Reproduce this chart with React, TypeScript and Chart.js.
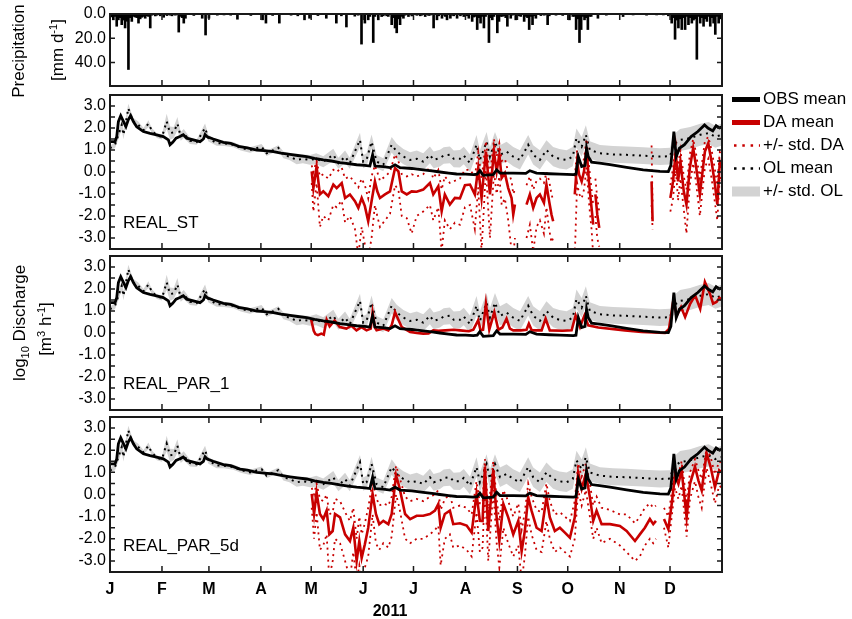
import React, { useEffect, useRef } from 'react';
import { Chart, registerables } from 'chart.js';

Chart.register(...registerables);

const FONT = '"Liberation Sans", Arial, Helvetica, sans-serif';
const RED = '#c80000';
const BAND = '#d3d3d3';

// ---- axes ----
const monthStarts = [0, 31, 59, 90, 120, 151, 181, 212, 243, 273, 304, 334];
const monthLabels = ['J', 'F', 'M', 'A', 'M', 'J', 'J', 'A', 'S', 'O', 'N', 'D'];
const dischargeTicks = [-3, -2.5, -2, -1.5, -1, -0.5, 0, 0.5, 1, 1.5, 2, 2.5, 3];
const rainTicks = [0, 20, 40];

// ---- daily precipitation: [day of year, mm/d] ----
const rainRows = [
  [1, 2.4], [2, 4.8], [3, 2], [4, 10.1], [5, 4.8], [6, 3], [7, 8.8], [8, 5], [9, 11.5], [10, 6], [11, 45.7], [12, 3], [13, 6.1], [14, 2], [15, 2.5],
  [16, 3], [17, 7.5], [18, 4], [19, 2.7], [20, 2], [21, 3.5], [22, 1.5], [23, 2], [24, 11.5], [25, 1], [27, 1.6], [28, 1], [30, 1.5], [32, 2.7], [34, 1.3],
  [36, 1], [37, 1.5], [39, 1], [41, 14.9], [42, 2], [43, 3], [44, 7.5], [45, 3.5], [50, 1.2], [55, 3.5], [57, 17.3], [59, 3.5], [64, 1], [68, 0.8], [72, 1],
  [76, 4.3], [84, 1.2], [91, 4.8], [93, 7.5], [97, 1.2], [101, 7.5], [108, 1], [112, 1.5], [116, 4.8], [119, 3.5], [124, 1.3], [129, 3.5], [135, 7.5], [138, 1.5], [141, 10.7],
  [146, 1.8], [148, 1], [150, 24.8], [152, 7.5], [154, 4.8], [155, 2], [157, 23.5], [158, 2], [160, 4.8], [162, 2.1], [163, 1.5], [165, 1.5], [166, 2], [168, 8.8], [169, 3],
  [170, 11.5], [171, 15.5], [172, 4], [173, 8.8], [174, 2], [175, 3.5], [176, 1], [178, 2.1], [180, 1.6], [183, 1.1], [185, 1.5], [186, 1], [188, 2.1], [190, 1.2], [191, 1],
  [193, 11.5], [195, 4.8], [196, 1.5], [198, 3.5], [199, 1], [200, 2], [201, 4.8], [203, 3.5], [204, 1], [205, 1.5], [207, 3.5], [209, 1.5], [211, 2.1], [212, 1], [213, 1.5],
  [214, 3.5], [216, 6.1], [217, 2.5], [218, 2], [219, 12.8], [220, 3], [221, 7.5], [222, 2], [223, 11.5], [224, 2], [226, 23.5], [227, 3], [228, 4.8], [229, 2], [231, 15.5],
  [232, 6.1], [233, 2], [234, 2], [235, 1.5], [236, 3], [237, 10.1], [239, 3.5], [240, 1], [242, 4.8], [244, 1.5], [245, 2], [247, 6.1], [248, 2], [249, 3], [250, 12.8],
  [251, 2], [252, 8.8], [253, 1.5], [254, 3.5], [257, 1.3], [259, 1], [261, 8.8], [262, 1.5], [266, 1], [270, 1.2], [274, 4.8], [276, 2], [277, 2], [278, 12.8], [279, 4],
  [280, 23.5], [281, 12.8], [282, 2], [283, 4.8], [284, 3], [285, 12.8], [286, 2], [287, 2], [291, 3.5], [296, 1], [306, 2.1], [312, 0.8], [320, 1], [326, 0.8], [330, 0.8],
  [333, 1.5], [335, 7.5], [336, 3], [337, 20.8], [338, 5], [339, 11.5], [340, 4], [341, 12.8], [342, 3], [343, 12.8], [344, 2], [345, 8.8], [346, 3], [347, 7.5], [348, 5],
  [349, 4], [350, 37.3], [351, 2], [352, 7.5], [353, 3], [354, 10.1], [355, 4], [356, 6.1], [357, 2], [358, 10.1], [359, 3], [360, 7.5], [361, 16.8], [362, 2], [363, 7.5],
  [364, 4],
];

// ---- observed discharge, log10 m3/h ----
const obsDays = [0, 3, 4, 5, 6.4, 8, 9.5, 10.9, 12.3, 13.9, 15.9, 19.9, 23.9, 27.8, 31.8, 34.8, 35.8, 37.4, 39.4, 41.7, 43.7, 45.7, 49.7, 53.7, 55.7, 56.7, 58, 61.6, 67.6, 72, 77.5, 82, 87.5, 92, 97.4, 102, 107.4, 112, 117.3, 122, 127.2, 132, 137.2, 142, 147.1, 152, 155, 156.6, 158, 163, 167, 170, 173, 180, 186.8, 192, 196.8, 202, 206.7, 212, 216.7, 219, 220.6, 222.6, 228.6, 230.6, 232.6, 240.5, 248, 250.4, 254.4, 262, 268.3, 276.3, 277.9, 279.3, 281.3, 283.3, 284.2, 285.2, 287.2, 292, 298.2, 308.1, 318, 328, 333, 334.5, 336.3, 337.7, 339.6, 342.6, 346.6, 350.6, 354.6, 356.6, 359.5, 361.5, 363.5, 365];
const obsLog = [1.38, 1.38, 1.6, 2.29, 2.56, 2.3, 2.06, 2.37, 2.56, 2.3, 2.06, 1.84, 1.76, 1.69, 1.61, 1.46, 1.24, 1.35, 1.54, 1.61, 1.69, 1.54, 1.46, 1.38, 1.5, 1.7, 1.6, 1.5, 1.35, 1.3, 1.15, 1.1, 1.0, 0.97, 0.93, 0.86, 0.8, 0.75, 0.7, 0.62, 0.55, 0.5, 0.43, 0.38, 0.33, 0.3, 0.27, 0.78, 0.27, 0.24, 0.2, 0.33, 0.2, 0.16, 0.1, 0.05, 0, -0.05, -0.09, -0.1, -0.12, -0.1, 0.06, -0.15, -0.12, 0.1, -0.05, -0.05, -0.06, 0.06, -0.05, -0.08, -0.1, -0.12, -0.1, 0.7, 0.25, 0.3, 1.08, 0.7, 0.45, 0.4, 0.33, 0.21, 0.1, 0.03, 0.02, 0.3, 1.84, 0.7, 1.08, 1.24, 1.61, 1.84, 2.14, 2.0, 1.87, 2.1, 2.0, 2.05];

// ---- open-loop ensemble: [day, mean, std] ----
const olRows = [
  [0, 1.08, 0.1], [3, 1.24, 0.15], [5, 1.69, 0.2], [7, 2.14, 0.2], [8, 1.69, 0.2], [9.9, 2.45, 0.2], [10.9, 2.9, 0.2], [12.3, 2.6, 0.2], [13.9, 2.3, 0.15], [16.9, 2.14, 0.15],
  [20, 1.9, 0.1], [22.9, 2.2, 0.15], [24.9, 1.9, 0.1], [28, 1.65, 0.1], [31, 1.6, 0.12], [33.8, 2.3, 0.35], [35.8, 1.77, 0.3], [38, 1.8, 0.25], [40.2, 2.2, 0.3], [42.2, 1.62, 0.2],
  [44, 1.75, 0.2], [47.7, 1.42, 0.15], [51.7, 1.36, 0.12], [56.7, 2.0, 0.2], [58.7, 1.54, 0.15], [63.6, 1.31, 0.12], [68, 1.3, 0.12], [73.5, 1.24, 0.12], [78, 1.1, 0.12], [83.5, 1.0, 0.12],
  [90.4, 1.15, 0.12], [93.4, 0.85, 0.12], [100.4, 1.1, 0.12], [103.4, 0.78, 0.15], [107, 0.7, 0.15], [111.3, 0.55, 0.2], [115, 0.6, 0.2], [119.3, 0.55, 0.22], [123, 0.6, 0.25], [127.2, 0.47, 0.25],
  [133.2, 0.78, 0.28], [136.2, 0.4, 0.25], [140.2, 0.7, 0.28], [143, 0.4, 0.25], [149.1, 1.46, 0.32], [151, 0.47, 0.3], [153, 0.55, 0.3], [156, 1.38, 0.32], [159, 0.47, 0.3], [163, 0.33, 0.3],
  [168, 1.24, 0.35], [171, 0.93, 0.35], [175, 0.7, 0.35], [179, 0.55, 0.35], [183, 0.6, 0.38], [186.8, 0.47, 0.38], [190.8, 0.78, 0.38], [193, 0.55, 0.38], [196.8, 0.63, 0.38], [199, 0.75, 0.38],
  [202.7, 0.78, 0.38], [205, 0.6, 0.38], [208.7, 0.6, 0.4], [211, 0.75, 0.4], [214.7, 0.4, 0.4], [218.6, 1.24, 0.44], [220.6, 0.55, 0.44], [224.6, 1.38, 0.44], [226.6, 0.7, 0.44], [229.6, 1.38, 0.44],
  [232.6, 0.78, 0.44], [236.5, 0.93, 0.44], [240.5, 0.7, 0.44], [244.5, 0.55, 0.44], [249.4, 1.24, 0.44], [252.4, 0.78, 0.44], [256.4, 0.55, 0.44], [260.3, 1.0, 0.44], [264.3, 0.7, 0.44], [268, 0.6, 0.44],
  [272.3, 0.55, 0.44], [276, 0.7, 0.44], [278.2, 1.54, 0.44], [281.3, 1.15, 0.44], [283.8, 1.69, 0.44], [286.2, 1.0, 0.4], [292.2, 0.85, 0.38], [300, 0.8, 0.38], [308.1, 0.78, 0.38], [318, 0.74, 0.38],
  [328, 0.7, 0.38], [334, 0.72, 0.38], [336, 1.24, 0.45], [340, 1.46, 0.5], [346, 1.54, 0.5], [352, 1.69, 0.5], [357, 1.77, 0.5], [361, 1.6, 0.5], [365, 1.7, 0.5],
];

// ---- data assimilation runs: [day, mean, mean+std, mean-std]; null = no estimate ----
const stRows = [
  [120.3, 0.03, 0.3, -0.5], [121.3, -0.73, 0.0, -1.8], [123.2, 0.25, 0.5, -0.5], [125.2, -1.02, -0.2, -2.5], [127.2, -0.88, -0.1, -2.0],
  [130.2, -1.1, -0.3, -2.2], [133.2, -0.57, 0.1, -1.5], [135.2, -0.73, 0.0, -1.6], [138.2, -0.5, 0.2, -1.3], [140.2, -1.18, -0.3, -2.3],
  [143.1, -1.02, -0.2, -2.0], [146.1, -1.33, -0.5, -2.6], [148.1, -1.63, -0.7, -3.8], [150.1, -1.18, -0.3, -2.5], [152, -1.55, -0.6, -3.3],
  [154, -2.24, -1.2, -3.9], [156, -1.33, -0.2, -3.0], [158, -0.43, 0.3, -1.5], [159.4, -0.88, 0.0, -2.0], [161, -1.18, -0.4, -2.5],
  [164, -1.02, -0.2, -2.2], [167, -0.88, 0.0, -1.9], [170, 0.18, 0.8, -0.6], [172, 0.03, 0.5, -0.8], [174, -0.88, -0.1, -2.0],
  [177, -1.02, -0.2, -2.1], [179.9, -0.88, -0.1, -2.8], [182.9, -0.9, -0.2, -2.0], [186.8, -0.8, -0.1, -1.8], [190.8, -0.5, 0.2, -1.5],
  [192.8, -1.02, -0.3, -2.2], [195.8, -0.65, 0.1, -1.6], [197.8, -1.78, -0.8, -3.6], [199.7, -1.02, -0.2, -2.2], [202.7, -1.48, -0.5, -2.6],
  [205.7, -1.18, -0.4, -2.3], [208.7, -1.2, -0.3, -2.4], [211.7, -0.6, 0.1, -1.6], [214.7, -0.57, 0.1, -1.5], [217.6, -1.02, -0.2, -2.6],
  [219.6, 0.18, 0.9, -0.7], [221.6, -1.18, -0.3, -3.6], [224.2, 0.93, 1.4, 0.1], [226.6, -1.02, -0.2, -3.0], [229, 0.93, 1.5, 0.0],
  [230.6, 0.03, 0.7, -1.0], [232.2, 0.78, 1.3, -0.2], [233.6, -0.27, 0.5, -1.5], [235.5, -0.05, 0.6, -1.2], [237.5, -0.73, 0.0, -2.2],
  [239.5, -1.18, -0.4, -3.6], [240.5, -1.93, -1.0, -3.8], [241.5, -1.48, -0.8, -3.0], [245, null, null, null],
  [248.4, -1.48, -0.6, -3.0], [250.4, -1.02, -0.2, -2.4], [252.4, -1.63, -0.8, -3.6], [254.4, -1.18, -0.4, -2.5], [256.4, -1.02, -0.3, -2.2],
  [258.8, -1.4, -0.5, -2.8], [260.3, -0.57, 0.0, -1.6], [261.9, -1.33, -0.4, -2.6], [263.3, -1.93, -1.0, -3.2], [264.3, -2.24, -1.3, -3.0],
  [270, null, null, null],
  [277.2, -1.02, -0.2, -3.8], [278.6, 0.47, 1.0, -0.5], [279.8, -0.12, 0.5, -1.0], [281.3, -0.43, 0.3, -1.2], [282.7, 0.03, 0.6, -0.8],
  [284.2, 1.08, 1.5, 0.2], [285.8, -0.57, 0.2, -1.5], [287.2, -1.63, -0.8, -2.6], [288.2, -2.39, -1.5, -3.8], [288.8, null, null, null],
  [289.5, -1.02, -0.3, -2.0], [290.6, -1.93, -1.2, -3.0], [291.8, -2.54, -1.8, -3.4], [300, null, null, null],
  [323, -0.43, 1.2, -1.5], [323.6, -2.24, -1.5, -2.6], [330, null, null, null],
  [334.2, -1.18, -0.6, -1.8], [335.8, -0.43, 0.2, -1.2], [337.4, 0.93, 1.3, 0.2], [338.8, -0.43, 0.3, -1.3], [340.2, 0.47, 1.0, -0.3],
  [342.2, -0.88, -0.2, -1.7], [343.8, -1.48, -0.8, -2.8], [345.8, 0.18, 0.8, -0.6], [347.8, 1.08, 1.5, 0.4], [349.4, 0.33, 0.9, -0.4],
  [351.8, -1.02, -0.3, -2.0], [354.8, 0.93, 1.4, 0.2], [356.8, 1.31, 1.6, 0.6], [358.8, 0.47, 1.0, -0.3], [360.8, -0.57, 0.1, -1.4],
  [362.2, -1.48, -0.6, -2.2], [363.7, 0.47, 0.9, -0.2], [365, 0.2, 0.7, -0.5],
];

const par1Rows = [
  [120, 0.6], [121.5, 0.1], [122.5, -0.05], [124, -0.1], [126, -0.03], [127.5, -0.08], [129.2, 0.6], [131, 0.3], [134, 0.57], [137, 0.27],
  [141, 0.2], [144, 0.33], [147, 0.12], [150, 0.27], [153, 0.12], [155.5, 0.2], [156.6, 0.93], [158, 0.25], [159, 0.12], [163, 0.2],
  [166, 0.12], [168, 0.35], [170, 0.95], [172, 0.6], [174, 0.27], [179, 0.05], [183, 0.0], [186.8, -0.03], [190, -0.02], [192.8, 0.12],
  [196, 0.1], [200, 0.12], [205, 0.15], [208.7, 0.12], [214, 0.08], [216.7, 0.15], [219.6, 0.58], [221, 0.12], [222.5, 0.15], [224.2, 1.33],
  [226.2, 0.15], [229.2, 0.95], [231.6, 0.15], [234, 0.25], [236.5, 0.65], [238.5, 0.2], [240.5, 0.12], [245, 0.12], [248.4, 0.15], [249.8, 0.42],
  [251.5, 0.12], [257.4, 0.12], [259.8, 0.65], [262.3, 0.12], [270, 0.1], [275.3, 0.12], [277.7, 0.8], [280.3, 0.27], [283, 0.8], [285.2, 0.35],
  [291.2, 0.25], [307.1, 0.12], [317, 0.05], [331, 0.0], [333.4, 0.19], [336, 1.49], [338, 0.8], [340.6, 1.18], [343, 0.73], [346, 1.33],
  [349, 1.71], [352, 1.1], [354.8, 2.32], [357.8, 1.79], [359.7, 1.33], [361.7, 1.41], [363.5, 1.6], [365, 1.5],
];

const par5Rows = [
  [120.3, 0.03, 0.3, -0.6], [121.7, -0.88, 0.0, -2.0], [123.2, 0.1, 0.5, -0.8], [125.2, -0.88, -0.2, -2.5], [127.2, -1.11, -0.3, -2.3],
  [129.2, -0.73, 0.0, -1.8], [130.8, -1.8, -0.9, -3.8], [132.8, -1.65, -0.8, -3.0], [134.2, -0.88, -0.2, -2.0], [137.2, -1.03, -0.3, -2.2],
  [140.2, -1.8, -0.8, -3.0], [143.1, -2.1, -1.2, -3.8], [145.1, -1.5, -0.6, -2.6], [147.1, -3.0, -2.0, -3.9], [148.7, -2.1, -1.0, -3.2],
  [150.1, -2.86, -1.8, -3.9], [152, -2.25, -1.3, -3.3], [154, -1.5, -0.6, -2.8], [156.6, 0.03, 0.6, -0.9], [158.6, -0.88, -0.1, -2.2],
  [160.6, -1.34, -0.5, -2.5], [163, -1.19, -0.4, -2.2], [166, -1.34, -0.5, -2.4], [168, -0.88, -0.1, -1.9], [170.6, 0.87, 1.3, 0.0],
  [172.6, 0.33, 0.8, -0.6], [176, -0.88, -0.1, -2.0], [179, -1.11, -0.3, -2.2], [182.9, -0.96, -0.2, -2.0], [186.8, -0.96, -0.3, -2.0],
  [190.8, -0.88, -0.1, -1.8], [193.8, -0.73, 0.0, -1.6], [195.8, -0.43, 0.2, -1.4], [197.2, -1.5, -0.7, -3.2], [199.7, -0.88, -0.2, -2.0],
  [202.7, -0.73, 0.0, -1.8], [204.7, -1.34, -0.6, -2.4], [208.7, -1.3, -0.5, -2.3], [212.7, -1.4, -0.6, -2.5], [215.7, -1.72, -0.9, -2.8],
  [218.6, 0.03, 0.6, -0.8], [220.6, -1.19, -0.4, -2.6], [222.2, -1.2, -0.4, -2.4], [223.6, 1.25, 1.6, 0.3], [225.6, -1.65, -0.8, -3.0],
  [228.6, 1.1, 1.5, 0.2], [230.6, -1.03, -0.2, -2.2], [232.2, -2.1, -1.2, -3.3], [234.6, -0.43, 0.2, -1.5], [237.5, -1.03, -0.3, -2.2],
  [240.5, -1.8, -1.0, -2.8], [243.5, -1.19, -0.4, -2.3], [245.5, -2.56, -1.6, -3.9], [247.4, -1.65, -0.8, -2.8], [249.4, -0.12, 0.5, -1.0],
  [251.4, -0.73, -0.1, -1.8], [254.4, -1.5, -0.7, -2.5], [257.4, -1.65, -0.8, -2.6], [260.3, -0.12, 0.5, -1.2], [262.3, -1.03, -0.3, -2.0],
  [265.3, -1.65, -0.9, -2.6], [268.3, -1.5, -0.8, -2.4], [271.3, -1.72, -1.0, -2.6], [274.3, -1.95, -1.2, -2.8], [277.2, -1.03, -0.3, -2.0],
  [279.2, 1.0, 1.4, 0.2], [281.3, 0.26, 0.8, -0.5], [283.8, 0.95, 1.4, 0.2], [286.2, -0.12, 0.5, -1.0], [288.2, -1.19, -0.5, -2.0],
  [290.2, -0.73, -0.1, -1.5], [293.2, -1.34, -0.6, -2.2], [298.2, -1.34, -0.7, -2.0], [304.1, -1.42, -0.9, -2.3], [308.1, -1.65, -0.9, -2.6],
  [313.1, -2.1, -1.3, -3.0], [316, -1.8, -1.0, -2.8], [319, -1.5, -0.6, -2.3], [322, -1.11, -0.4, -2.0], [324, -1.34, -0.6, -2.2],
  [325.6, -1.19, -0.5, -2.0], [328, null, null, null],
  [330.4, -1.11, -0.6, -1.5], [333, -1.57, -1.0, -2.4], [335, -0.43, 0.1, -1.0], [337, 0.87, 1.2, 0.3], [339, 0.48, 0.9, -0.2],
  [340.9, 1.1, 1.5, 0.4], [343.9, -1.03, -0.3, -1.9], [345.9, 0.48, 1.0, -0.2], [348.9, 1.25, 1.6, 0.6], [350.9, 0.64, 1.1, -0.1],
  [352.9, 0.18, 0.7, -0.6], [355.8, 1.86, 2.1, 1.2], [358.2, 1.25, 1.7, 0.5], [360.8, 0.33, 0.9, -0.4], [363.3, 1.1, 1.5, 0.4],
  [365, 1.0, 1.4, 0.3],
];

const legendOrder = ['OBS mean', 'DA mean', '+/- std. DA', 'OL mean', '+/- std. OL'];

// ---- layout of the plot frames (px) ----
const PLOT_LEFT = 110;
const PLOT_RIGHT = 722;
const PAD = 10;
const XAXIS_H = 45;
const rainBox = { top: 14, bottom: 86 };
const panelBoxes = [
  { top: 95, bottom: 249 },
  { top: 256, bottom: 410 },
  { top: 417, bottom: 572 },
];

const col = (rows: any[], k: number) => rows.map((r) => ({ x: r[0], y: r[k] }));

// frame with inward tick marks on all four sides
const framePlugin = {
  id: 'frame',
  afterDatasetsDraw(chart: any) {
    const { ctx, chartArea } = chart;
    const { left, right, top, bottom } = chartArea;
    const xs = chart.scales.x;
    const ys = chart.scales.y;
    ctx.save();
    ctx.strokeStyle = '#1a1a1a';
    ctx.lineWidth = 1.5;
    ctx.beginPath();
    monthStarts.slice(1).forEach((d) => {
      const px = xs.getPixelForValue(d);
      ctx.moveTo(px, top);
      ctx.lineTo(px, top + 6);
      ctx.moveTo(px, bottom);
      ctx.lineTo(px, bottom - 6);
    });
    ys.ticks.forEach((t: any) => {
      const py = ys.getPixelForValue(t.value);
      ctx.moveTo(left, py);
      ctx.lineTo(left + 5, py);
      ctx.moveTo(right, py);
      ctx.lineTo(right - 5, py);
    });
    ctx.stroke();
    ctx.lineWidth = 2;
    ctx.strokeRect(left, top, right - left, bottom - top);
    ctx.restore();
  },
};

// legend drawn to the right of the first discharge panel, styled from the datasets
const sideLegendPlugin = {
  id: 'sideLegend',
  afterDraw(chart: any) {
    const { ctx, chartArea } = chart;
    const x0 = chartArea.right + 10;
    const x1 = chartArea.right + 38;
    const tx = chartArea.right + 41;
    let y = chartArea.top + 4.5;
    ctx.save();
    ctx.font = `17px ${FONT}`;
    ctx.textBaseline = 'middle';
    legendOrder.forEach((label) => {
      const ds: any = chart.data.datasets.find((d: any) => d.label === label);
      if (!ds) return;
      if (ds.fill) {
        ctx.fillStyle = ds.backgroundColor;
        ctx.fillRect(x0, y - 5, x1 - x0, 10);
      } else {
        ctx.strokeStyle = ds.borderColor;
        const dotted = ds.borderDash && ds.borderDash.length;
        ctx.lineWidth = dotted ? 2.5 : 5;
        ctx.setLineDash(dotted ? [2.5, 5.8] : []);
        ctx.beginPath();
        ctx.moveTo(x0 + (dotted ? 2 : 0), y);
        ctx.lineTo(x1, y);
        ctx.stroke();
        ctx.setLineDash([]);
      }
      ctx.fillStyle = '#000';
      ctx.fillText(label, tx, y);
      y += 23;
    });
    ctx.restore();
  },
};

const tickFont = { family: FONT, size: 16 };

function yAxis(min: number, max: number, values: number[], reverse: boolean) {
  return {
    type: 'linear',
    min,
    max,
    reverse,
    grid: { display: false, drawTicks: false },
    border: { display: false },
    afterBuildTicks: (s: any) => {
      s.ticks = values.map((v) => ({ value: v }));
    },
    afterFit: (s: any) => {
      s.width = PLOT_LEFT;
      s.paddingTop = 0;
      s.paddingBottom = 0;
    },
    ticks: {
      autoSkip: false,
      padding: 4,
      color: '#000',
      font: tickFont,
      callback: (v: number) => (Number.isInteger(v) ? v.toFixed(1) : ''),
    },
  };
}

function xAxis(showMonths: boolean) {
  return {
    type: 'linear',
    min: 0,
    max: 365,
    offset: false,
    display: showMonths,
    grid: { display: false, drawTicks: false },
    border: { display: false },
    afterBuildTicks: (s: any) => {
      s.ticks = monthStarts.map((v) => ({ value: v }));
    },
    afterFit: (s: any) => {
      s.height = showMonths ? XAXIS_H : 0;
      s.paddingLeft = 0;
      s.paddingRight = 0;
    },
    ticks: {
      autoSkip: false,
      maxRotation: 0,
      padding: 8,
      color: '#000',
      font: { family: FONT, size: 16, weight: 'bold' },
      callback: (v: number) => {
        const i = monthStarts.indexOf(v);
        return i >= 0 ? monthLabels[i] : '';
      },
    },
  };
}

const common = {
  responsive: true,
  maintainAspectRatio: false,
  animation: false,
  events: [],
};

function rainConfig(): any {
  return {
    type: 'bar',
    data: {
      datasets: [
        {
          label: 'Precipitation',
          data: rainRows.map((r) => ({ x: r[0], y: r[1] })),
          backgroundColor: '#000',
          borderWidth: 0,
          barThickness: 2,
        },
      ],
    },
    options: {
      ...common,
      layout: { padding: { left: 0, right: 852 - PLOT_RIGHT, top: PAD, bottom: PAD } },
      plugins: { legend: { display: false }, tooltip: { enabled: false } },
      scales: { x: xAxis(false), y: yAxis(0, 59.3, rainTicks, true) },
    },
    plugins: [framePlugin],
  };
}

function panelConfig(rows: any[], hasStd: boolean, withLegend: boolean, showMonths: boolean): any {
  const line = { pointRadius: 0, tension: 0, spanGaps: false, fill: false };
  const datasets: any[] = [
    { ...line, label: 'OBS mean', data: obsDays.map((d, i) => ({ x: d, y: obsLog[i] })), borderColor: '#000', borderWidth: 2.8, order: 0 },
    { ...line, label: 'DA mean', data: col(rows, 1), borderColor: RED, borderWidth: 2.6, order: 1 },
  ];
  if (hasStd) {
    datasets.push(
      { ...line, label: '+/- std. DA', data: col(rows, 2), borderColor: RED, borderWidth: 1.8, borderDash: [2, 4], order: 2 },
      { ...line, label: '+/- std. DA (lower)', data: col(rows, 3), borderColor: RED, borderWidth: 1.8, borderDash: [2, 4], order: 2 },
    );
  }
  datasets.push(
    { ...line, label: 'OL mean', data: olRows.map((r) => ({ x: r[0], y: r[1] })), borderColor: '#000', borderWidth: 2, borderDash: [2, 4.5], order: 3 },
    { ...line, label: '+/- std. OL', data: olRows.map((r) => ({ x: r[0], y: r[1] + r[2] })), borderWidth: 0, borderColor: BAND, backgroundColor: BAND, fill: '+1', order: 4 },
    { ...line, label: 'OL lower', data: olRows.map((r) => ({ x: r[0], y: r[1] - r[2] })), borderWidth: 0, borderColor: BAND, order: 4 },
  );
  return {
    type: 'line',
    data: { datasets },
    options: {
      ...common,
      layout: { padding: { left: 0, right: 852 - PLOT_RIGHT, top: PAD, bottom: showMonths ? 0 : PAD } },
      plugins: { legend: { display: false }, tooltip: { enabled: false } },
      scales: { x: xAxis(showMonths), y: yAxis(-3.5, 3.5, dischargeTicks, false) },
    },
    plugins: withLegend ? [framePlugin, sideLegendPlugin] : [framePlugin],
  };
}

const rotated = (cx: number, cy: number, size: number): React.CSSProperties => ({
  position: 'absolute',
  left: cx,
  top: cy,
  transform: 'translate(-50%, -50%) rotate(-90deg)',
  whiteSpace: 'nowrap',
  fontSize: size,
  lineHeight: 1,
  color: '#000',
});

const panelNames = ['REAL_ST', 'REAL_PAR_1', 'REAL_PAR_5d'];

export default function App() {
  const rainRef = useRef<HTMLCanvasElement>(null);
  const p1Ref = useRef<HTMLCanvasElement>(null);
  const p2Ref = useRef<HTMLCanvasElement>(null);
  const p3Ref = useRef<HTMLCanvasElement>(null);

  useEffect(() => {
    document.body.style.margin = '0';
    const charts = [
      new Chart(rainRef.current as HTMLCanvasElement, rainConfig()),
      new Chart(p1Ref.current as HTMLCanvasElement, panelConfig(stRows, true, true, false)),
      new Chart(p2Ref.current as HTMLCanvasElement, panelConfig(par1Rows, false, false, false)),
      new Chart(p3Ref.current as HTMLCanvasElement, panelConfig(par5Rows, true, false, true)),
    ];
    return () => charts.forEach((c) => c.destroy());
  }, []);

  const box = (top: number, height: number): React.CSSProperties => ({
    position: 'absolute',
    left: 0,
    top,
    width: 852,
    height,
  });

  const areaH = (b: { top: number; bottom: number }) => b.bottom - b.top;

  return (
    <div style={{ position: 'relative', width: 852, height: 619, background: '#fff', overflow: 'hidden', fontFamily: FONT }}>
      <div style={box(rainBox.top - PAD, areaH(rainBox) + 2 * PAD)}>
        <canvas ref={rainRef} />
      </div>
      <div style={box(panelBoxes[0].top - PAD, areaH(panelBoxes[0]) + 2 * PAD)}>
        <canvas ref={p1Ref} />
      </div>
      <div style={box(panelBoxes[1].top - PAD, areaH(panelBoxes[1]) + 2 * PAD)}>
        <canvas ref={p2Ref} />
      </div>
      <div style={box(panelBoxes[2].top - PAD, areaH(panelBoxes[2]) + PAD + XAXIS_H)}>
        <canvas ref={p3Ref} />
      </div>

      <div style={rotated(18, 51, 17)}>Precipitation</div>
      <div style={rotated(57, 50, 17)}>
        [mm d<sup style={{ fontSize: 11 }}>-1</sup>]
      </div>
      <div style={rotated(21, 323, 17)}>
        log<sub style={{ fontSize: 11 }}>10</sub> Discharge
      </div>
      <div style={rotated(45, 329, 17)}>
        [m<sup style={{ fontSize: 11 }}>3</sup> h<sup style={{ fontSize: 11 }}>-1</sup>]
      </div>

      {panelNames.map((name, i) => (
        <div
          key={name}
          style={{
            position: 'absolute',
            left: 123,
            top: panelBoxes[i].bottom - 27,
            transform: 'translateY(-50%)',
            fontSize: 17,
            lineHeight: 1,
            color: '#000',
            whiteSpace: 'nowrap',
          }}
        >
          {name}
        </div>
      ))}

      <div
        style={{
          position: 'absolute',
          left: 390,
          top: 611,
          transform: 'translate(-50%, -50%)',
          fontSize: 16,
          fontWeight: 'bold',
          lineHeight: 1,
          color: '#000',
        }}
      >
        2011
      </div>
    </div>
  );
}
